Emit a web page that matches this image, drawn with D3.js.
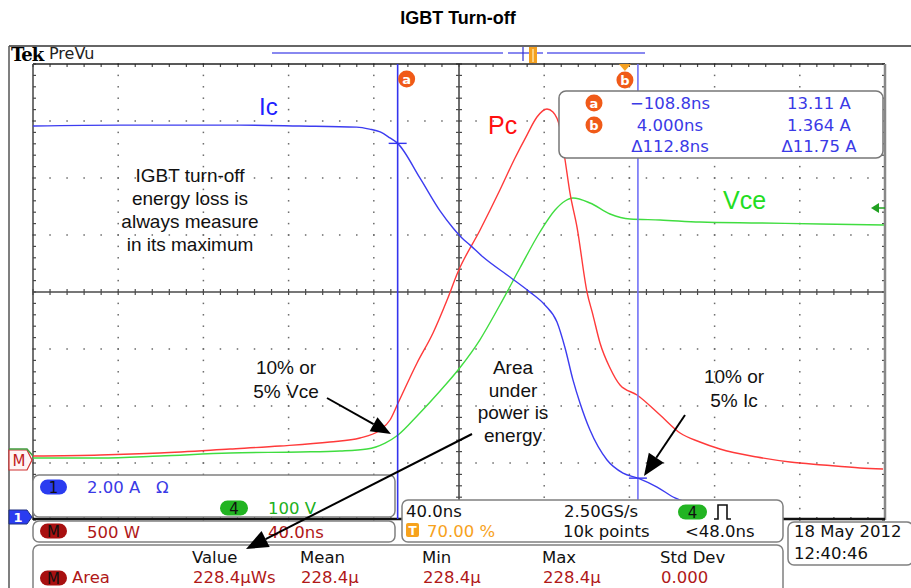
<!DOCTYPE html>
<html>
<head>
<meta charset="utf-8">
<script src="https://cdn.jsdelivr.net/npm/d3@7"></script>
<style>
  body { margin: 0; background: #fff; }
  svg { display: block; }
</style>
</head>
<body>
<div id="chart"></div>
<script>
// trace data (time in ns, trigger at 0)
var icTime = [-280, -239, -183, -155, -128, -122, -117, -112.4, -108.8, -98.3, -88.9, -82.8, -78.6, -74.8, -68.7, -56.1, -46.7, -39.7, -34.0, -30.2, -26.5, -23.2, -18.5, -10.5, -3.0, 4.0, 13.0, 21.4, 33.1];
var icAmps = [13.72, 13.75, 13.75, 13.72, 13.68, 13.61, 13.51, 13.30, 13.11, 11.89, 10.74, 10.14, 9.79, 9.54, 9.12, 8.42, 7.89, 7.44, 6.84, 5.93, 4.81, 4.0, 3.05, 2.0, 1.54, 1.364, 1.05, 0.67, 0.42];

var vceTime = [-280, -248.5, -220.4, -187.5, -154.6, -135.9, -123.2, -114.7, -108.6, -99.7, -88.9, -79.5, -70.1, -60.8, -51.4, -42.0, -34.9, -30.2, -26.5, -18.5, -9.1, 0.3, 14.4, 33.1, 61.3, 89.5, 119.5];
var vceVolts = [3.5, 3.5, 7.0, 12.3, 14.0, 15.8, 19.3, 29.8, 43.9, 77.2, 121.1, 162.3, 211.4, 271.9, 336.8, 400.0, 438.6, 454.4, 459.6, 450.9, 431.6, 422.8, 421.1, 417.5, 415.8, 414.0, 412.3];

var pcTime = [-280, -248.5, -220.4, -187.5, -164.0, -140.6, -126.5, -117.1, -112.4, -108.6, -99.7, -92.2, -85.6, -80.5, -70.1, -60.8, -53.7, -48.1, -43.4, -38.7, -35.9, -32.6, -30.2, -27.9, -24.6, -19.9, -17.1, -13.8, -9.1, -4.4, 3.6, 14.4, 23.8, 33.1, 42.5, 59.9, 75.4, 90.9, 108.3, 119.1];
var pcWatts = [52.6, 61.4, 78.9, 114, 140.4, 175.4, 210.5, 280.7, 368.4, 517.5, 868.4, 1131.6, 1421, 1666.7, 2035, 2386, 2667, 2868, 3026, 3096, 3070, 2930, 2649, 2360, 2061, 1491, 1289, 1044, 824.6, 675.4, 587.7, 412.3, 254.4, 175.4, 114, 43.9, 0, -26, -52.6, -61.4];

// cursors
var cursorNames = ["a", "b"];
var cursorTimes = [-108.8, 4.0];
var cursorAmps = [13.11, 1.364];

// readout texts
var readTimes = ["\u2212108.8ns", "4.000ns", "\u0394112.8ns"];
var readAmps = ["13.11 A", "1.364 A", "\u039411.75 A"];
var measHeads = ["Value", "Mean", "Min", "Max", "Std Dev"];
var measVals = ["228.4\u03bcWs", "228.4\u03bc", "228.4\u03bc", "228.4\u03bc", "0.000"];

var width = 911, height = 588;
var svg = d3.select("#chart").append("svg")
  .attr("width", width).attr("height", height);

var tekFont = "DejaVu Sans";
var noteFont = "Liberation Sans, Arial, sans-serif";

// graticule: 10 x 8 divisions
var gx = d3.scaleLinear().domain([0, 10]).range([33, 885]);
var gy = d3.scaleLinear().domain([0, 8]).range([64, 520]);

// 40 ns/div, trigger at 70 %
var x = d3.scaleLinear().domain([-280, 120]).range([33, 885]);
// channel scales: 2 A/div, 100 V/div, 500 W/div
var yIc = d3.scaleLinear().domain([0, 2]).range([517, 517 - 57]);
var yVce = d3.scaleLinear().domain([0, 100]).range([460, 460 - 57]);
var yPc = d3.scaleLinear().domain([0, 500]).range([462, 462 - 57]);

// title
svg.append("text").attr("x", 458).attr("y", 24).attr("text-anchor", "middle")
  .style("font-family", noteFont).style("font-weight", "bold").style("font-size", "18px")
  .text("IGBT Turn-off");

// outer frame
svg.append("line").attr("x1", 9).attr("x2", 911).attr("y1", 46).attr("y2", 46)
  .attr("stroke", "#333").attr("stroke-width", 1.5);
svg.append("line").attr("x1", 9).attr("x2", 9).attr("y1", 46).attr("y2", 588)
  .attr("stroke", "#555").attr("stroke-width", 1.5);

svg.append("text").attr("x", 11).attr("y", 61)
  .style("font-family", "DejaVu Serif").style("font-weight", "bold").style("font-size", "18px")
  .attr("letter-spacing", "-1px").text("Tek");
svg.append("text").attr("x", 49).attr("y", 59)
  .style("font-family", tekFont).style("font-size", "16px").attr("fill", "#222")
  .text("PreVu");

// record view bar
var bar = svg.append("g").attr("stroke", "#8888f0").attr("stroke-width", 2);
[[272, 503], [508, 543], [547, 645]].forEach(function(s) {
  bar.append("line").attr("x1", s[0]).attr("x2", s[1]).attr("y1", 53).attr("y2", 53);
});
svg.append("line").attr("x1", 523).attr("x2", 523).attr("y1", 47).attr("y2", 61)
  .attr("stroke", "#3030d0").attr("stroke-width", 1.2);
svg.append("rect").attr("x", 529).attr("y", 47).attr("width", 8).attr("height", 16)
  .attr("fill", "#f4a020");
svg.append("line").attr("x1", 533).attr("x2", 533).attr("y1", 49).attr("y2", 62)
  .attr("stroke", "#fde0a0").attr("stroke-width", 1.5);

// grid dots
var grid = svg.append("g").attr("fill", "#6a6a6a");
d3.range(1, 10).filter(function(i) { return i !== 5; }).forEach(function(i) {
  d3.range(0, 41).forEach(function(j) {
    grid.append("rect").attr("x", gx(i) - 0.75).attr("y", gy(j / 5) - 0.75)
      .attr("width", 1.5).attr("height", 1.5);
  });
});
d3.range(1, 8).filter(function(j) { return j !== 4; }).forEach(function(j) {
  d3.range(0, 51).forEach(function(k) {
    grid.append("rect").attr("x", gx(k / 5) - 0.75).attr("y", gy(j) - 0.75)
      .attr("width", 1.5).attr("height", 1.5);
  });
});

// centre axes with minor ticks
var ax = svg.append("g").attr("stroke", "#4a4a4a").attr("stroke-width", 1.2);
ax.append("line").attr("x1", gx(5)).attr("x2", gx(5)).attr("y1", gy(0)).attr("y2", gy(8)).attr("stroke-width", 1.6);
ax.append("line").attr("x1", gx(0)).attr("x2", gx(10)).attr("y1", gy(4)).attr("y2", gy(4)).attr("stroke-width", 1.6);
d3.range(0, 51).forEach(function(k) {
  var xx = gx(k / 5);
  ax.append("line").attr("x1", xx).attr("x2", xx).attr("y1", gy(4) - 3).attr("y2", gy(4) + 3);
  ax.append("line").attr("x1", xx).attr("x2", xx).attr("y1", gy(0)).attr("y2", gy(0) + 3);
  ax.append("line").attr("x1", xx).attr("x2", xx).attr("y1", gy(8)).attr("y2", gy(8) - 3);
});
d3.range(0, 41).forEach(function(j) {
  var yy = gy(j / 5);
  ax.append("line").attr("y1", yy).attr("y2", yy).attr("x1", gx(5) - 3).attr("x2", gx(5) + 3);
  ax.append("line").attr("y1", yy).attr("y2", yy).attr("x1", gx(0)).attr("x2", gx(0) + 3);
  ax.append("line").attr("y1", yy).attr("y2", yy).attr("x1", gx(10)).attr("x2", gx(10) - 3);
});

// border
svg.append("line").attr("x1", 33).attr("x2", 885).attr("y1", 64).attr("y2", 64)
  .attr("stroke", "#222").attr("stroke-width", 1.5);
svg.append("line").attr("x1", 33).attr("x2", 33).attr("y1", 64).attr("y2", 520)
  .attr("stroke", "#444").attr("stroke-width", 1.5);
svg.append("line").attr("x1", 885).attr("x2", 885).attr("y1", 64).attr("y2", 520)
  .attr("stroke", "#888").attr("stroke-width", 2.5);
svg.append("line").attr("x1", 33).attr("x2", 885).attr("y1", 519).attr("y2", 519)
  .attr("stroke", "#111").attr("stroke-width", 2.5);

// traces
svg.append("clipPath").attr("id", "plotclip").append("rect")
  .attr("x", 33).attr("y", 64).attr("width", 852).attr("height", 456);
var traces = svg.append("g").attr("clip-path", "url(#plotclip)");

function drawTrace(times, vals, yScale, color) {
  var pts = times.map(function(t, i) { return [t, vals[i]]; });
  traces.append("path").datum(pts)
    .attr("fill", "none").attr("stroke", color).attr("stroke-width", 1.4)
    .attr("d", d3.line().curve(d3.curveMonotoneX)
      .x(function(d) { return x(d[0]); })
      .y(function(d) { return yScale(d[1]); }));
}
drawTrace(vceTime, vceVolts, yVce, "#40dd40");
drawTrace(pcTime, pcWatts, yPc, "#ff3a3a");
drawTrace(icTime, icAmps, yIc, "#3c3cf0");

// cursors
cursorTimes.forEach(function(t, i) {
  var cx = x(t);
  svg.append("line").attr("x1", cx).attr("x2", cx).attr("y1", 64).attr("y2", i === 0 ? 519 : 500)
    .attr("stroke", i === 0 ? "#3434ee" : "#7272f6").attr("stroke-width", 1.6);
  var cy = yIc(cursorAmps[i]);
  svg.append("line").attr("x1", cx - 9).attr("x2", cx + 9).attr("y1", cy).attr("y2", cy)
    .attr("stroke", "#3434ee").attr("stroke-width", 1.4);
});

function badge(cx, cy, label) {
  svg.append("circle").attr("cx", cx).attr("cy", cy).attr("r", 8.5).attr("fill", "#f05a18");
  svg.append("text").attr("x", cx).attr("y", cy + 4.5).attr("text-anchor", "middle")
    .style("font-family", tekFont).style("font-weight", "bold").style("font-size", "13px")
    .attr("fill", "#fff").text(label);
}
badge(x(cursorTimes[0]) + 9, 79, cursorNames[0]);
svg.append("path").attr("d", "M" + (x(cursorTimes[1]) - 19) + ",64 l12,0 l-6,7 z").attr("fill", "#f5a020");
badge(x(cursorTimes[1]) - 13, 80, cursorNames[1]);

// Vce reference arrow at right edge
svg.append("path").attr("d", "M871,208 l8,-5 l0,10 z").attr("fill", "#20a020");
svg.append("line").attr("x1", 878).attr("x2", 885).attr("y1", 208).attr("y2", 208)
  .attr("stroke", "#20a020").attr("stroke-width", 1.5);

// cursor readout
svg.append("rect").attr("x", 559).attr("y", 91).attr("width", 324).attr("height", 67)
  .attr("rx", 7).attr("fill", "#fff").attr("stroke", "#777").attr("stroke-width", 1.5);
[109, 131, 152].forEach(function(by, i) {
  svg.append("text").attr("x", 670).attr("y", by).attr("text-anchor", "middle")
    .style("font-family", tekFont).style("font-size", "16.5px").attr("fill", "#3a3ae6")
    .text(readTimes[i]);
  svg.append("text").attr("x", 819).attr("y", by).attr("text-anchor", "middle")
    .style("font-family", tekFont).style("font-size", "16.5px").attr("fill", "#3a3ae6")
    .text(readAmps[i]);
});
badge(594, 103, "a");
badge(594, 125, "b");

// trace labels and notes
function note(lines, cx, y0, step, size, color, anchor) {
  lines.forEach(function(s, i) {
    svg.append("text").attr("x", cx).attr("y", y0 + i * step)
      .attr("text-anchor", anchor || "middle")
      .style("font-family", noteFont).style("font-size", size + "px")
      .attr("fill", color).text(s);
  });
}
note(["Ic"], 259, 115, 0, 24, "#2020ff", "start");
note(["Pc"], 488, 134, 0, 25, "#ff1010", "start");
note(["Vce"], 723, 209, 0, 25, "#22dd22", "start");
note(["IGBT turn-off", "energy loss is", "always measure", "in its maximum"], 190, 182, 23, 19, "#111");
note(["10% or", "5% Vce"], 286, 374, 24, 19, "#111");
note(["Area", "under", "power is", "energy"], 513, 374, 22.5, 19, "#111");
note(["10% or", "5% Ic"], 734, 383, 24, 19, "#111");

// left channel markers
svg.append("path").attr("d", "M9,450 L27,450 L32,460 L27,470 L9,470 Z")
  .attr("fill", "#fff4f4").attr("stroke", "#d03030").attr("stroke-width", 1.2);
svg.append("path").attr("d", "M9,449 L27,449 L33,456").attr("fill", "none")
  .attr("stroke", "#40a040").attr("stroke-width", 1.5);
svg.append("text").attr("x", 19).attr("y", 466).attr("text-anchor", "middle")
  .style("font-family", tekFont).style("font-size", "15px").attr("fill", "#c02020").text("M");
svg.append("path").attr("d", "M9,510 L27,510 L32,517 L27,524 L9,524 Z")
  .attr("fill", "#2a3cf0").attr("stroke", "#203080").attr("stroke-width", 1);
svg.append("text").attr("x", 18).attr("y", 522).attr("text-anchor", "middle")
  .style("font-family", tekFont).style("font-weight", "bold").style("font-size", "13px").attr("fill", "#fff").text("1");

// bottom readout boxes
function box(x0, y0, w, h) {
  svg.append("rect").attr("x", x0).attr("y", y0).attr("width", w).attr("height", h)
    .attr("rx", 6).attr("fill", "#fff").attr("stroke", "#808080").attr("stroke-width", 1.5);
}
function pill(x0, cy, w, fill, label) {
  svg.append("rect").attr("x", x0).attr("y", cy - 7.5).attr("width", w).attr("height", 15)
    .attr("rx", 7.5).attr("fill", fill);
  svg.append("text").attr("x", x0 + w / 2).attr("y", cy + 5.5).attr("text-anchor", "middle")
    .style("font-family", tekFont).style("font-size", "15px").attr("fill", "#111").text(label);
}
function tt(x0, y0, s, color) {
  svg.append("text").attr("x", x0).attr("y", y0)
    .style("font-family", tekFont).style("font-size", "16.5px").attr("fill", color).text(s);
}
var dark = "#b01818", blue = "#3a3ae6", green = "#20b020", orange = "#f7a21c";

box(33, 475, 362, 42);
pill(40, 487, 27, "#2a3cf0", "1");
tt(87, 493, "2.00 A", blue);
tt(156, 493, "\u03a9", blue);
pill(220, 508, 28, "#22b422", "4");
tt(268, 514, "100 V", green);

box(33, 521, 362, 21);
pill(40, 531, 27, "#a81010", "M");
tt(87, 538, "500 W", dark);
tt(268, 538, "40.0ns", dark);

box(402, 500, 381, 42);
tt(406, 517, "40.0ns", "#111");
tt(564, 517, "2.50GS/s", "#111");
pill(678, 512, 29, "#22b422", "4");
svg.append("path").attr("d", "M714,519 L718,519 L718,505 L727,505 L727,519 L731,519")
  .attr("fill", "none").attr("stroke", "#111").attr("stroke-width", 1.6);
svg.append("rect").attr("x", 406).attr("y", 523).attr("width", 13).attr("height", 14)
  .attr("rx", 2).attr("fill", orange);
svg.append("text").attr("x", 412.5).attr("y", 535).attr("text-anchor", "middle")
  .style("font-family", tekFont).style("font-weight", "bold").style("font-size", "12px").attr("fill", "#fff").text("T");
tt(427, 537, "70.00 %", orange);
tt(563, 537, "10k points", "#111");
tt(685, 537, "<48.0ns", "#111");

box(788, 522, 125, 43);
tt(794, 537, "18 May 2012", "#111");
tt(794, 559, "12:40:46", "#111");

box(33, 545, 750, 50);
var colX = [192, 300, 422, 542, 660];
measHeads.forEach(function(h, i) { tt(colX[i], 563, h, "#111"); });
pill(40, 578, 27, "#a81010", "M");
tt(72, 583, "Area", dark);
measVals.forEach(function(v, i) { tt(colX[i] + 1, 583, v, dark); });

// annotation arrows
function arrow(x1, y1, x2, y2, len, hw) {
  var a = Math.atan2(y2 - y1, x2 - x1);
  var bx = x2 - len * Math.cos(a), by = y2 - len * Math.sin(a);
  svg.append("line").attr("x1", x1).attr("y1", y1).attr("x2", bx).attr("y2", by)
    .attr("stroke", "#000").attr("stroke-width", 2);
  var px = -Math.sin(a) * hw, py = Math.cos(a) * hw;
  svg.append("path")
    .attr("d", "M" + x2 + "," + y2 + " L" + (bx + px) + "," + (by + py) + " L" + (bx - px) + "," + (by - py) + " Z")
    .attr("fill", "#000");
}
arrow(327, 398, 391, 434, 20, 8);
arrow(472, 434, 246, 549, 22, 9);
arrow(685, 415, 644, 476, 22, 9);
</script>
</body>
</html>
